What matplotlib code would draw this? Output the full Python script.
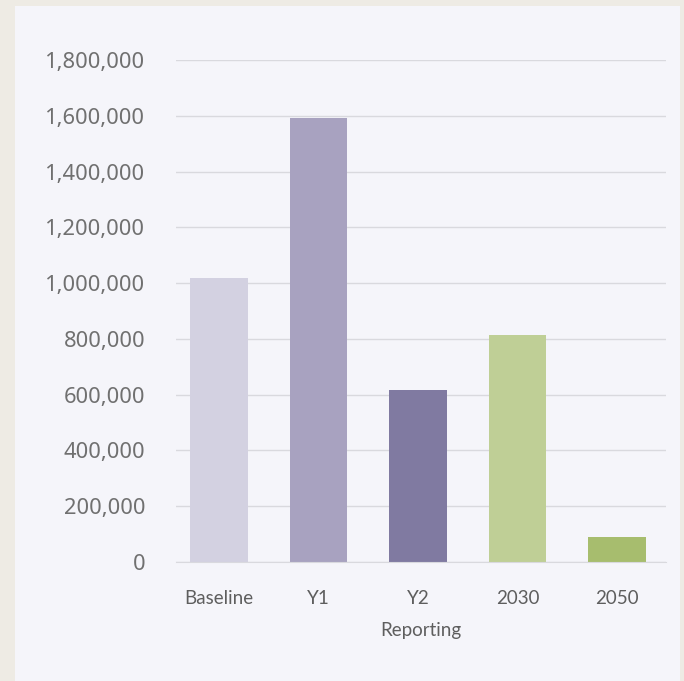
import matplotlib
matplotlib.use("Agg")
import matplotlib.pyplot as plt
from matplotlib.patches import Rectangle
from matplotlib.ticker import FuncFormatter

categories = ["Baseline", "Y1", "Y2", "2030", "2050"]
values = [1020000, 1592000, 617000, 815000, 90000]
colors = ["#d3d1e1", "#a8a2c0", "#807aa1", "#bfcf96", "#a7bd6e"]
yticks = [0, 200000, 400000, 600000, 800000, 1000000, 1200000, 1400000, 1600000, 1800000]
xlabel = "Reporting"

W, H = 684, 681
fig = plt.figure(figsize=(W/100, H/100), dpi=100)
fig.patch.set_facecolor("#eeebe4")
fig.add_artist(Rectangle((15/W, 0), (680-15)/W, 1 - 6/H, transform=fig.transFigure,
                         facecolor="#f5f5fa", edgecolor="none", zorder=0))

ax = fig.add_axes([176/W, 1 - 562/H, (666-176)/W, (562-60)/H])
ax.set_facecolor("none")
ax.bar(range(len(categories)), values, width=0.58, color=colors, zorder=2)
ax.set_xlim(-0.43, 4.49)
ax.set_ylim(0, 1800000)
ax.set_yticks(yticks)
ax.yaxis.set_major_formatter(FuncFormatter(lambda v, p: f"{int(v):,}"))
ax.set_xticks(range(len(categories)))
ax.set_xticklabels(categories)
ax.grid(axis="y", color="#d9d9de", linewidth=1, zorder=0)
for s in ["top", "right", "left"]:
    ax.spines[s].set_visible(False)
ax.spines["bottom"].set_color("#d9d9de")
ax.tick_params(axis="both", length=0, colors="#5e5e5e")
ax.tick_params(axis="y", labelsize=15.8, pad=22, labelcolor="#707070")
ax.tick_params(axis="x", labelsize=13.5, pad=20)
for lab in ax.get_yticklabels():
    lab.set_fontfamily("Noto Sans")
    lab.set_fontweight("light")
for lab in ax.get_xticklabels():
    lab.set_fontfamily("Lato")
ax.set_xlabel(xlabel, fontsize=13.5, color="#5e5e5e", family="Lato", labelpad=11)

fig.savefig("out.png", dpi=100, facecolor=fig.get_facecolor())
